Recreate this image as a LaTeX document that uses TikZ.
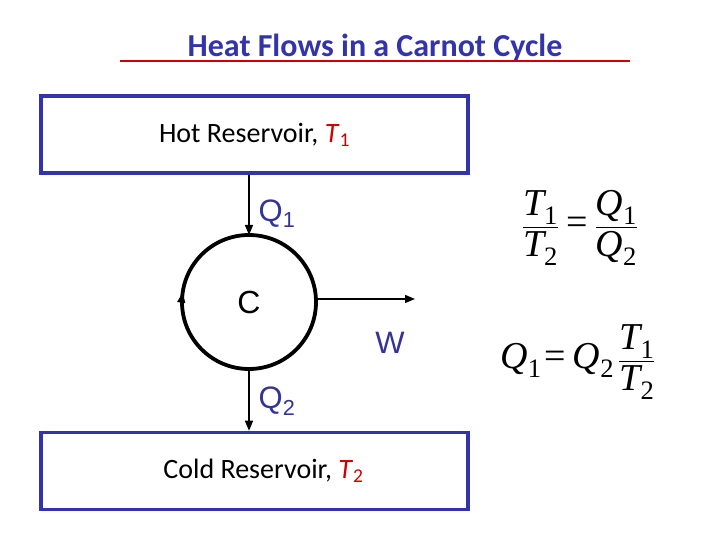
\documentclass[tikz,border=0pt]{standalone}
\usepackage{amsmath}
\usepackage{fontspec}
\setmainfont{Carlito}
\newfontfamily\arialfont{Liberation Sans}
\newfontfamily\timesfont{Liberation Serif}
\usepackage{tikz}
\usetikzlibrary{arrows.meta, positioning}

\definecolor{resblue}{RGB}{51,51,170}
\definecolor{lblblue}{RGB}{51,51,153}
\definecolor{tred}{RGB}{204,0,0}

% italic Times letters and digits for the equations
\newcommand{\tvar}[1]{\text{\timesfont\itshape #1}}
\newcommand{\tnum}[1]{\text{\timesfont #1}}
\newcommand{\teq}{\mathrel{\text{\timesfont =}}}

\begin{document}
\begin{tikzpicture}[
  x=1pt, y=1pt,
  box/.style  ={rectangle, draw=resblue, line width=3.5pt, minimum width=427pt, minimum height=77pt, font=\fontsize{28}{32}\selectfont},
  lbl/.style  ={font=\arialfont\fontsize{31}{34}\selectfont, text=lblblue, inner sep=0pt},
  eqn/.style  ={font=\fontsize{38}{44}\selectfont, inner sep=0pt},
  arr/.style  ={-{Triangle[length=10pt, width=8pt]}, line width=1.4pt}
  ]

  \useasboundingbox (0,0) rectangle (720,540);

  % title
  \node[font=\bfseries\fontsize{32}{36}\selectfont, text=resblue] (title) at (375,492) {Heat Flows in a Carnot Cycle};
  \coordinate (ul) at (120,479);
  \coordinate (ur) at (630,479);
  \draw[tred, line width=2.2pt] (ul) -- (ur);

  % reservoirs
  \node[box] (hot)  at (254.5,405.5) {Hot Reservoir, \textcolor{tred}{\textit{T}\textsubscript{1}}};
  \node[box] (cold) at (254.5,69)    {\hspace{18pt}Cold Reservoir, \textcolor{tred}{\textit{T}\textsubscript{2}}};

  % engine
  \node[circle, draw, line width=3.8pt, minimum size=134pt, outer sep=0pt, inner sep=0pt,
        font=\arialfont\fontsize{32}{34}\selectfont] (cyc) at (249,238) {C};
  \coordinate (wend) at (415,241);

  \draw[arr] (hot.south -| cyc.north) -- (cyc.north);
  \draw[arr] (cyc.south) -- (cold.north -| cyc.south);
  \draw[arr] (cyc.east |- wend) -- (wend);
  \draw[arr] (cyc.195) arc[start angle=195, end angle=172, radius=67pt];

  \node[lbl] (q1) at (277,326) {Q\textsubscript{1}};
  \node[lbl] (q2) at (277,139) {Q\textsubscript{2}};
  \node[lbl] (w)  at (390,197) {W};

  % relations
  \node[eqn] (eqa) at (580,312) {$\displaystyle
     \frac{\tvar{T}_{\tnum{1}}}{\tvar{T}_{\tnum{2}}}
     \teq \frac{\tvar{Q}_{\tnum{1}}}{\tvar{Q}_{\tnum{2}}}$};
  \node[eqn] (eqb) at (578,178) {$\displaystyle
     \tvar{Q}_{\tnum{1}}\!\teq \tvar{Q}_{\tnum{2}}\,
     \frac{\tvar{T}_{\tnum{1}}}{\tvar{T}_{\tnum{2}}}$};

\end{tikzpicture}
\end{document}
